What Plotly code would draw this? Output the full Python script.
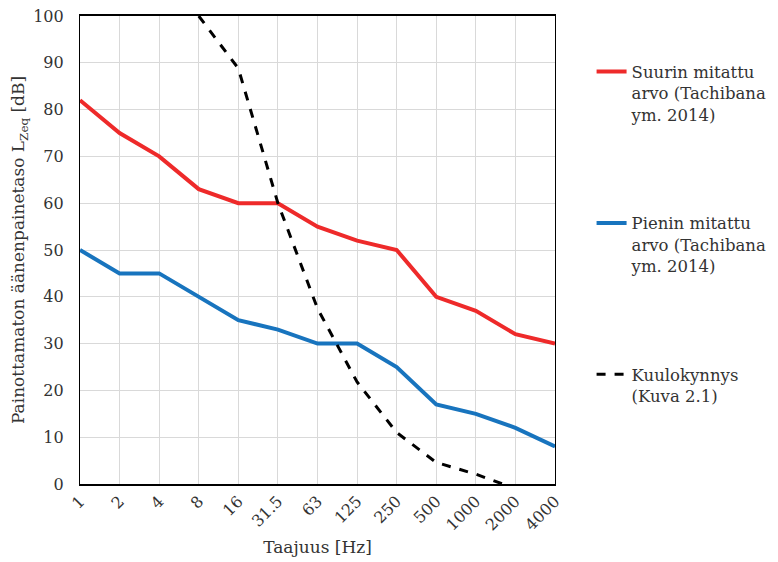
import plotly.graph_objects as go

freqs = ["1", "2", "4", "8", "16", "31.5", "63", "125", "250", "500", "1000", "2000", "4000"]
suurin = [82, 75, 70, 63, 60, 60, 55, 52, 50, 40, 37, 32, 30]
pienin = [50, 45, 45, 40, 35, 33, 30, 30, 25, 17, 15, 12, 8]
kuulokynnys = [None, None, None, 100, 88.8, 60, 37.5, 21.8, 11, 4.6, 2.1, -1, None]

FONT = "DejaVu Serif"
TXT = "#333333"

fig = go.Figure()
fig.add_trace(go.Scatter(x=freqs, y=suurin, mode="lines",
                         name="Suurin mitattu<br>arvo (Tachibana<br>ym. 2014)",
                         line=dict(color="#EE2A2A", width=4), legendgroup="a"))
fig.add_trace(go.Scatter(x=freqs, y=pienin, mode="lines",
                         name="Pienin mitattu<br>arvo (Tachibana<br>ym. 2014)",
                         line=dict(color="#1874BE", width=4), legendgroup="b"))
fig.add_trace(go.Scatter(x=freqs, y=kuulokynnys, mode="lines",
                         name="Kuulokynnys<br>(Kuva 2.1)",
                         line=dict(color="black", width=3, dash="dash"), legendgroup="c"))

fig.update_layout(
    width=770, height=554,
    margin=dict(l=72, r=223, t=8, b=78, autoexpand=False),
    paper_bgcolor="white", plot_bgcolor="white",
    font=dict(family=FONT, size=16, color=TXT),
    showlegend=True,
    legend=dict(x=1.077, y=0.918, xanchor="left", yanchor="top",
                valign="top", tracegroupgap=84,
                font=dict(family=FONT, size=16.5, color=TXT),
                bgcolor="rgba(0,0,0,0)"),
    xaxis=dict(type="category", range=[0, 12], automargin=False,
               showgrid=True, gridcolor="#d9d9d9", gridwidth=1,
               showline=True, linecolor="black", linewidth=1.5, mirror=True,
               tickangle=-45, tickfont=dict(size=16),
               ticks="", zeroline=False, ticklabeloverflow="allow",
               title=dict(text="Taajuus [Hz]", font=dict(size=17), standoff=8)),
    yaxis=dict(range=[0, 100], dtick=10, tick0=0, automargin=False,
               showgrid=True, gridcolor="#d9d9d9", gridwidth=1,
               showline=True, linecolor="black", linewidth=1.2, mirror=True,
               ticks="", zeroline=False, tickfont=dict(size=16),
               ticklabelstandoff=12, ticklabeloverflow="allow",
               title=dict(text="Painottamaton äänenpainetaso L<sub>Zeq</sub> [dB]",
                          font=dict(size=17), standoff=12)),
)

fig.write_html("out.html")
